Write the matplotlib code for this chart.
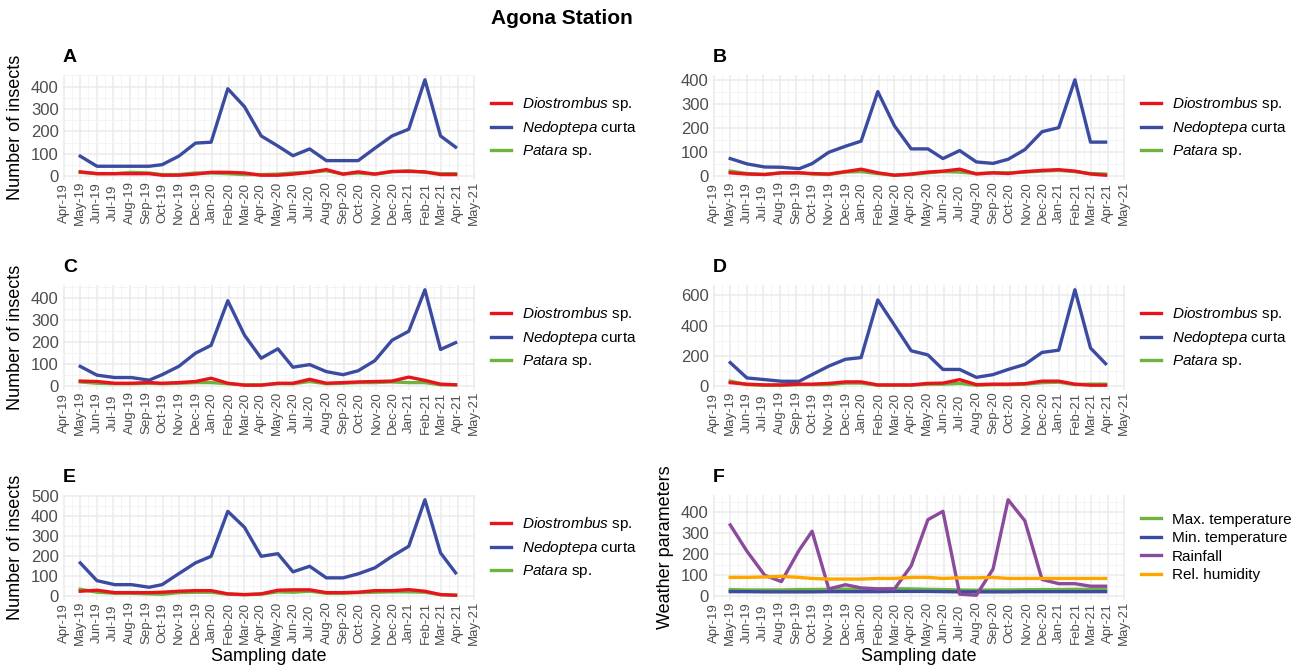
import matplotlib
matplotlib.use('Agg')
import matplotlib.pyplot as plt
import matplotlib.dates as mdates
from matplotlib.ticker import MultipleLocator
import pandas as pd

plt.rcParams['font.family'] = ['Liberation Sans', 'DejaVu Sans']
plt.rcParams['mathtext.fontset'] = 'custom'
plt.rcParams['mathtext.it'] = 'Liberation Sans:italic'
plt.rcParams['mathtext.rm'] = 'Liberation Sans'

# sampling dates
dates = pd.to_datetime(['2019-05-01', '2019-06-01', '2019-07-04', '2019-08-04', '2019-09-06', '2019-09-30',
                        '2019-10-31', '2019-12-01', '2019-12-30', '2020-01-30', '2020-03-01', '2020-04-01',
                        '2020-05-02', '2020-05-30', '2020-06-30', '2020-07-31', '2020-08-31', '2020-09-28',
                        '2020-10-29', '2020-11-30', '2020-12-31', '2021-01-30', '2021-02-28', '2021-03-28'])

# panel A
a_dio = [20, 12, 12, 12, 12, 5, 5, 10, 18, 18, 15, 5, 5, 10, 18, 30, 10, 20, 10, 22, 22, 20, 8, 8]
a_ned = [90, 45, 45, 45, 45, 52, 90, 148, 152, 390, 310, 180, 135, 92, 122, 70, 70, 70, 125, 180, 210, 430, 180, 130]
a_pat = [18, 12, 12, 18, 15, 8, 8, 15, 15, 12, 8, 8, 10, 15, 18, 25, 10, 15, 10, 20, 25, 18, 12, 12]
# panel B
b_dio = [15, 10, 8, 15, 15, 12, 10, 20, 30, 15, 5, 10, 18, 22, 30, 10, 15, 12, 20, 25, 28, 22, 10, 5]
b_ned = [74, 52, 39, 38, 32, 53, 100, 125, 146, 351, 209, 114, 114, 74, 107, 60, 54, 71, 111, 185, 202, 400, 142, 142]
b_pat = [22, 12, 8, 15, 15, 10, 8, 18, 20, 12, 5, 8, 15, 20, 18, 12, 15, 15, 18, 22, 25, 20, 12, 10]
# panel C
c_dio = [22, 20, 12, 12, 15, 12, 15, 20, 35, 12, 3, 3, 12, 12, 30, 12, 15, 18, 20, 22, 40, 25, 8, 5]
c_ned = [89, 49, 38, 38, 26, 51, 89, 149, 185, 388, 231, 126, 169, 85, 97, 65, 51, 69, 115, 208, 249, 438, 166, 197]
c_pat = [18, 12, 10, 10, 12, 10, 12, 15, 15, 10, 5, 5, 10, 10, 20, 10, 12, 15, 15, 18, 15, 15, 5, 5]
# panel D
d_dio = [25, 15, 10, 10, 15, 15, 20, 30, 30, 10, 10, 10, 20, 22, 45, 12, 15, 15, 18, 35, 35, 15, 8, 8]
d_ned = [157, 56, 45, 34, 34, 78, 134, 179, 190, 570, 403, 235, 208, 112, 112, 60, 78, 112, 145, 224, 239, 637, 253, 150]
d_pat = [35, 12, 8, 8, 12, 12, 12, 22, 22, 8, 8, 8, 15, 15, 20, 8, 12, 12, 15, 25, 28, 12, 15, 15]
# panel E
e_dio = [25, 30, 18, 18, 18, 20, 25, 28, 28, 12, 8, 12, 30, 32, 32, 18, 18, 20, 28, 28, 33, 25, 8, 5]
e_ned = [167, 78, 58, 58, 45, 58, 113, 167, 200, 425, 345, 200, 213, 122, 150, 92, 92, 112, 142, 200, 250, 483, 217, 117]
e_pat = [35, 20, 15, 15, 12, 10, 18, 20, 20, 10, 8, 10, 22, 20, 25, 15, 15, 18, 20, 22, 22, 20, 8, 5]
# panel F (weather)
f_tmax = [32, 30, 30, 30, 32, 32, 33, 34, 33, 35, 36, 35, 33, 32, 30, 29, 30, 30, 31, 32, 32, 33, 33, 33]
f_tmin = [22, 22, 21, 21, 21, 21, 22, 22, 22, 22, 23, 23, 23, 22, 21, 21, 21, 21, 22, 22, 22, 22, 22, 22]
f_rain = [340, 215, 100, 70, 220, 310, 35, 55, 40, 35, 35, 145, 365, 405, 10, 5, 130, 460, 360, 80, 60, 60, 48, 48]
f_rh = [90, 90, 92, 95, 90, 85, 82, 82, 82, 85, 85, 90, 90, 85, 88, 88, 90, 85, 85, 85, 85, 85, 85, 85]

insect_labels = [r'$\mathit{Diostrombus}$ sp.', r'$\mathit{Nedoptepa}$ curta', r'$\mathit{Patara}$ sp.']
weather_labels = ['Max. temperature', 'Min. temperature', 'Rainfall', 'Rel. humidity']

RED = '#E8141C'
BLUE = '#3B4BA0'
GREEN = '#6DB33F'
PURPLE = '#8B4A9C'
ORANGE = '#FFA500'

fig = plt.figure(figsize=(13.04, 6.70), dpi=100)
fig.text(0.431, 0.972, 'Agona Station', ha='center', va='center', fontsize=15, fontweight='bold')

W = 412 / 1304
H = 105 / 670
lefts = [63 / 1304, 713 / 1304]
bottoms = [1 - 180 / 670, 1 - 390 / 670, 1 - 600 / 670]


def style_axis(ax, series, ystep):
    lo = min(min(s) for s in series)
    hi = max(max(s) for s in series)
    pad = 0.05 * (hi - lo)
    ax.set_ylim(lo - pad, hi + pad)
    ax.set_xlim(pd.Timestamp('2019-03-30'), pd.Timestamp('2021-05-03'))
    ax.xaxis.set_major_locator(mdates.MonthLocator())
    ax.xaxis.set_minor_locator(mdates.MonthLocator(bymonthday=16))
    ax.xaxis.set_major_formatter(mdates.DateFormatter('%b-%y'))
    ax.yaxis.set_major_locator(MultipleLocator(ystep))
    ax.yaxis.set_minor_locator(MultipleLocator(ystep / 2))
    ax.grid(which='major', color='#EBEBEB', lw=1.1)
    ax.grid(which='minor', color='#F2F2F2', lw=0.6)
    ax.set_axisbelow(True)
    for sp in ax.spines.values():
        sp.set_visible(False)
    ax.tick_params(which='both', length=0)
    ax.tick_params(axis='y', labelsize=12, labelcolor='#4D4D4D', pad=3)
    ax.tick_params(axis='x', labelsize=9.5, labelcolor='#4D4D4D', labelrotation=90, pad=16.5)
    for lbl in ax.get_xticklabels():
        lbl.set_va('center')
        lbl.set_ha('center')


def insect_panel(ax, dio, ned, pat, letter, ylab, ystep):
    ax.plot(dates, pat, color=GREEN, lw=2.4, label=insect_labels[2])
    ax.plot(dates, ned, color=BLUE, lw=2.4, label=insect_labels[1])
    ax.plot(dates, dio, color=RED, lw=2.4, label=insect_labels[0])
    style_axis(ax, [dio, ned, pat], ystep)
    h, l = ax.get_legend_handles_labels()
    ax.legend([h[2], h[1], h[0]], [l[2], l[1], l[0]], loc='center left', bbox_to_anchor=(1.04, 0.5),
              frameon=False, fontsize=11, handlelength=1.3, handletextpad=0.7, labelspacing=0.4,
              borderpad=0, borderaxespad=0)
    ax.text(0, 1.17, letter, transform=ax.transAxes, fontsize=14, fontweight='bold', va='center', ha='left')
    if ylab:
        ax.set_ylabel('Number of insects', fontsize=13)
        ax.yaxis.set_label_coords(-0.095, 0.5)


axA = fig.add_axes([lefts[0], bottoms[0], W, H])
insect_panel(axA, a_dio, a_ned, a_pat, 'A', True, 100)
axB = fig.add_axes([lefts[1], bottoms[0], W, H])
insect_panel(axB, b_dio, b_ned, b_pat, 'B', False, 100)
axC = fig.add_axes([lefts[0], bottoms[1], W, H])
insect_panel(axC, c_dio, c_ned, c_pat, 'C', True, 100)
axD = fig.add_axes([lefts[1], bottoms[1], W, H])
insect_panel(axD, d_dio, d_ned, d_pat, 'D', False, 200)
axE = fig.add_axes([lefts[0], bottoms[2], W, H])
insect_panel(axE, e_dio, e_ned, e_pat, 'E', True, 100)
axE.set_xlabel('Sampling date', fontsize=13)
axE.xaxis.set_label_coords(0.5, -0.46)

axF = fig.add_axes([lefts[1], bottoms[2], W, H])
axF.plot(dates, f_tmax, color=GREEN, lw=2.4, label=weather_labels[0])
axF.plot(dates, f_tmin, color=BLUE, lw=2.4, label=weather_labels[1])
axF.plot(dates, f_rain, color=PURPLE, lw=2.4, label=weather_labels[2])
axF.plot(dates, f_rh, color=ORANGE, lw=2.4, label=weather_labels[3])
style_axis(axF, [f_tmax, f_tmin, f_rain, f_rh], 100)
axF.legend(loc='center left', bbox_to_anchor=(1.04, 0.5), frameon=False, fontsize=11, handlelength=1.3,
           handletextpad=0.7, labelspacing=0.3, borderpad=0, borderaxespad=0)
axF.text(0, 1.17, 'F', transform=axF.transAxes, fontsize=14, fontweight='bold', va='center', ha='left')
axF.set_ylabel('Weather parameters', fontsize=13)
axF.yaxis.set_label_coords(-0.095, 0.5)
axF.set_xlabel('Sampling date', fontsize=13)
axF.xaxis.set_label_coords(0.5, -0.46)

fig.savefig('out.png', dpi=100)
